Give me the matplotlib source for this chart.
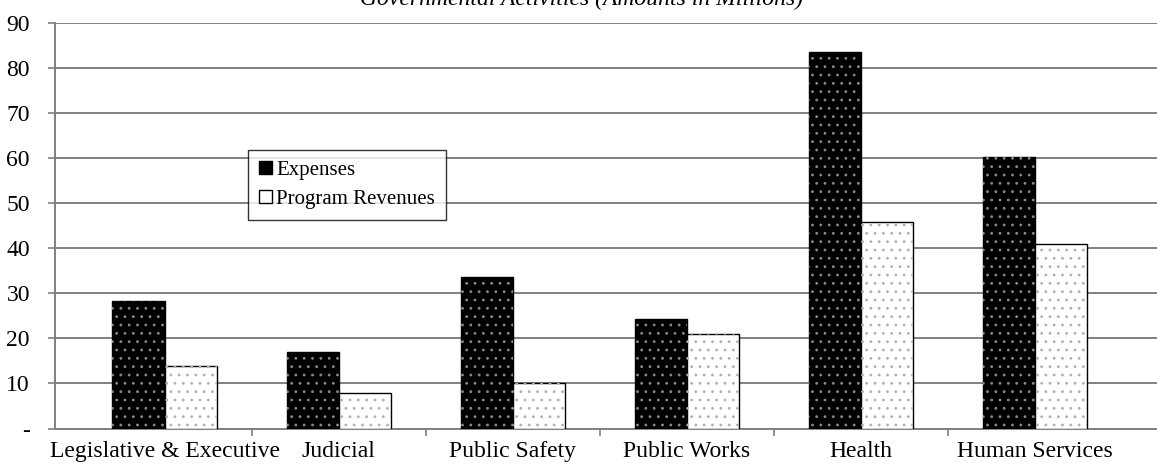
import matplotlib.pyplot as plt
import numpy as np

plt.rcParams['font.family'] = ['Liberation Serif', 'DejaVu Serif']
plt.rcParams['hatch.linewidth'] = 0.8

# data (amounts in millions)
categories = ['Legislative & Executive', 'Judicial', 'Public Safety',
              'Public Works', 'Health', 'Human Services']
expenses = [28.4, 17.0, 33.7, 24.2, 83.5, 60.3]
revenues = [13.9, 8.0, 10.2, 21.0, 45.7, 41.0]
yticks = [0, 10, 20, 30, 40, 50, 60, 70, 80, 90]
ytick_labels = ['-', '10', '20', '30', '40', '50', '60', '70', '80', '90']

fig = plt.figure(figsize=(11.57, 4.66), dpi=100)
ax = fig.add_axes([0.0475, 0.0803, 0.9525, 0.871])

x = np.arange(len(categories))
w = 0.3
grid_col = '#808080'

# bars: solid fill, then gray dot hatch on top
ax.bar(x - w / 2, expenses, w, color='black', edgecolor='black', linewidth=1.0,
       label='Expenses', zorder=3)
ax.bar(x + w / 2, revenues, w, color='white', edgecolor='black', linewidth=1.0,
       label='Program Revenues', zorder=3)
ax.bar(x - w / 2, expenses, w, fill=False, hatch='..', edgecolor='#8a8a8a',
       linewidth=0, zorder=4)
ax.bar(x + w / 2, revenues, w, fill=False, hatch='..', edgecolor='#b0b0b0',
       linewidth=0, zorder=4)

ax.set_xlim(-0.63, 5.70)
ax.set_ylim(0, 90)

# y axis
ax.set_yticks(yticks)
ax.set_yticklabels(ytick_labels, fontsize=17)
ax.yaxis.grid(True, color=grid_col, linewidth=1.4, zorder=0)
ax.tick_params(axis='y', length=5, width=1.2, color=grid_col, pad=13)

# x axis: boundary ticks, labels at centres
ax.set_xticks(np.arange(len(categories) - 1) + 0.5)
ax.set_xticklabels([])
ax.tick_params(axis='x', which='major', length=5, width=1.2, color=grid_col)
ax.set_xticks(x, minor=True)
ax.set_xticklabels(categories, minor=True, fontsize=17)
ax.tick_params(axis='x', which='minor', length=0, pad=9)

for s in ['top', 'right']:
    ax.spines[s].set_visible(False)
for s in ['left', 'bottom']:
    ax.spines[s].set_color(grid_col)
    ax.spines[s].set_linewidth(1.4)

leg = ax.legend(loc='upper left', bbox_to_anchor=(0.175, 0.687), fontsize=15,
                fancybox=False, frameon=True, edgecolor='black',
                handlelength=0.6, handleheight=0.6, handletextpad=0.2,
                labelspacing=0.45, borderpad=0.55, borderaxespad=0)
leg.get_frame().set_linewidth(1.0)

fig.text(0.503, 1 - 5 / 466, 'Governmental Activities (Amounts in Millions)',
         ha='center', va='baseline', fontsize=17, style='italic')

fig.savefig('out.png', dpi=100)
